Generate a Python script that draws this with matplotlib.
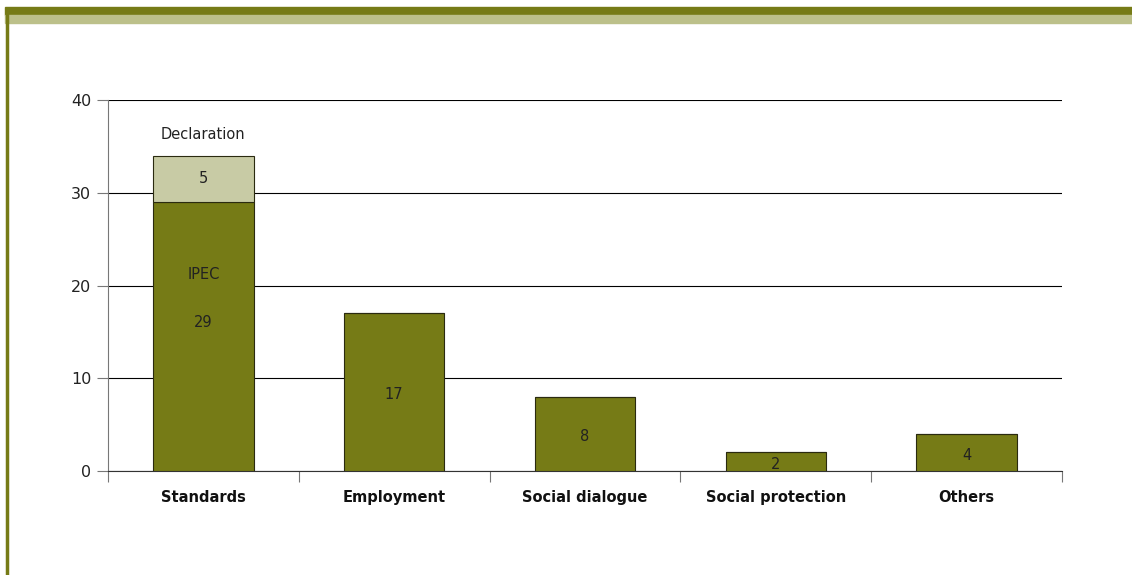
import matplotlib.pyplot as plt
import numpy as np
from matplotlib.patches import Rectangle
from matplotlib.lines import Line2D

categories = ["Standards", "Employment", "Social dialogue", "Social protection", "Others"]
main_values = [29, 17, 8, 2, 4]
declaration_values = [5, 0, 0, 0, 0]

dark = "#767b16"
light = "#c8cba5"

fig = plt.figure(figsize=(11.32, 5.75), dpi=100)
plt.rcParams['font.family'] = ['DejaVu Sans']

# header bars and left rule
fig.patches.append(Rectangle((5 / 1132, 1 - 15 / 575), 1, 8 / 575, transform=fig.transFigure,
                             color=dark, zorder=0))
fig.patches.append(Rectangle((5 / 1132, 1 - 23 / 575), 1, 8 / 575, transform=fig.transFigure,
                             color="#bcc08a", zorder=0))
fig.lines.append(Line2D([7 / 1132, 7 / 1132], [0, 1 - 15 / 575], transform=fig.transFigure,
                        color=dark, lw=2.5))

ax = fig.add_axes([108 / 1132, 1 - 471 / 575, (1062 - 108) / 1132, (471 - 100) / 575])
x = np.arange(len(categories))
w = 0.526
ax.bar(x, main_values, width=w, color=dark, edgecolor="#2a2a10", linewidth=0.8, zorder=3)
ax.bar(x, declaration_values, width=w, bottom=main_values, color=light,
       edgecolor="#2a2a10", linewidth=0.8, zorder=3)

for i, v in enumerate(main_values):
    ax.text(i, v / 2 - 0.3 if i > 0 else 16, str(v), ha="center", va="center", fontsize=10.5,
            color="#222222", zorder=4)
ax.text(0, 21.2, "IPEC", ha="center", va="center", fontsize=10.5, color="#222222", zorder=4)
ax.text(0, main_values[0] + declaration_values[0] / 2, str(declaration_values[0]),
        ha="center", va="center", fontsize=10.5, color="#222222", zorder=4)
ax.text(0, 36.3, "Declaration", ha="center", va="center", fontsize=10.5, color="#222222", zorder=4)

ax.set_xlim(-0.5, len(categories) - 0.5)
ax.set_ylim(0, 40)
ax.set_yticks([0, 10, 20, 30, 40])
ax.yaxis.grid(True, color="black", lw=0.8, zorder=0)
ax.set_axisbelow(True)
ax.tick_params(axis="y", direction="out", length=8, width=0.8, color="#777777", labelsize=11.5,
               labelcolor="#222222", pad=4)

ax.set_xticks(np.arange(-0.5, len(categories), 1.0))
ax.set_xticklabels([])
ax.tick_params(axis="x", direction="out", length=8, width=0.8, color="#777777")
ax.set_xticks(x, minor=True)
ax.set_xticklabels(categories, minor=True, fontweight="bold", fontsize=10.5, color="#111111")
ax.tick_params(axis="x", which="minor", length=0, pad=14)

for s in ["top", "right"]:
    ax.spines[s].set_visible(False)
ax.spines["left"].set_color("#777777")
ax.spines["bottom"].set_color("#333333")

plt.savefig("out.png", dpi=100)
plt.close()
